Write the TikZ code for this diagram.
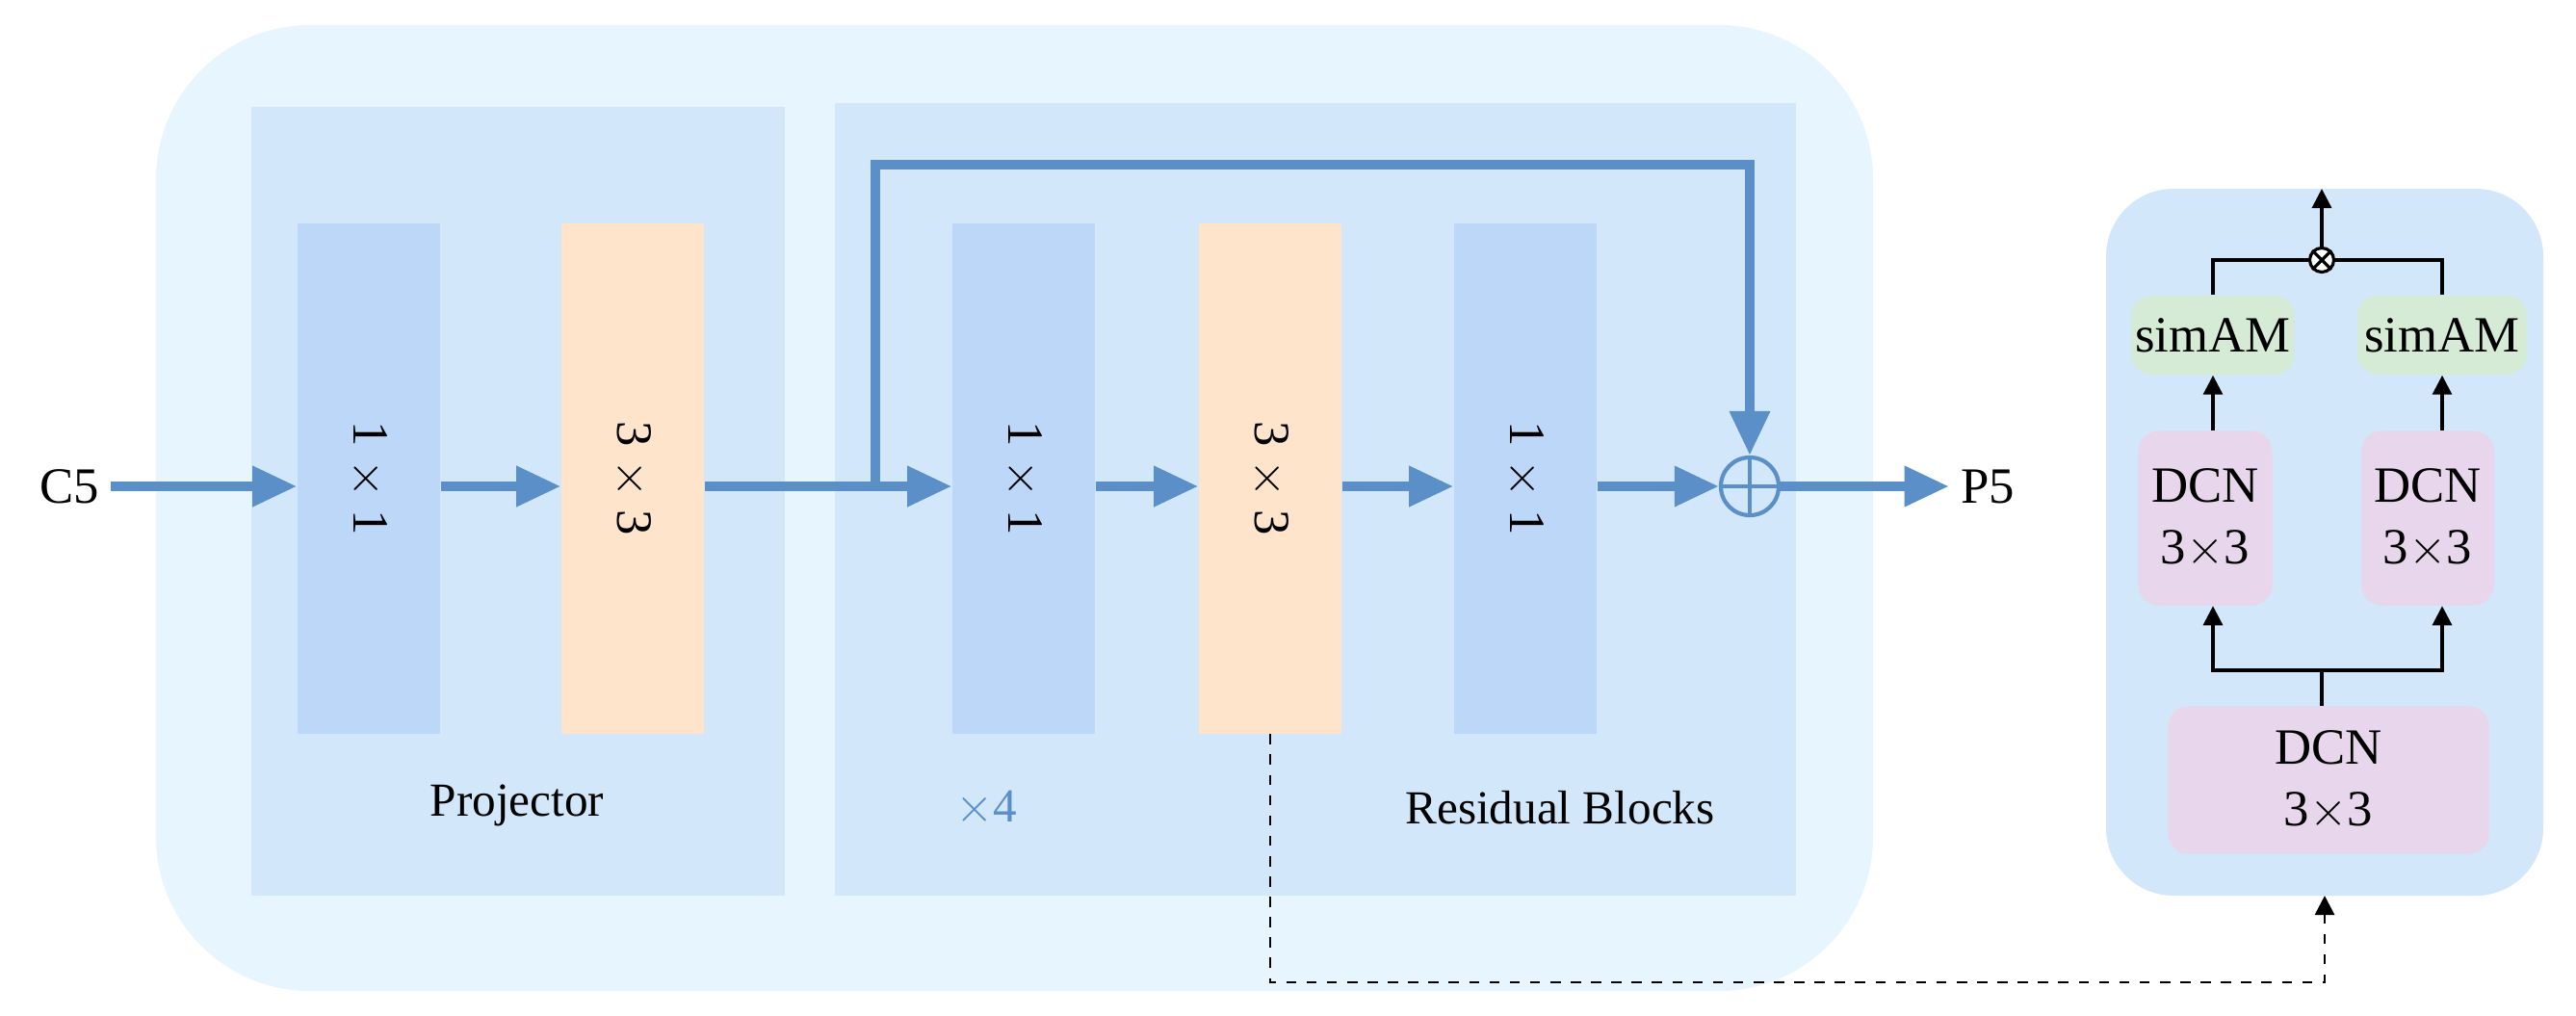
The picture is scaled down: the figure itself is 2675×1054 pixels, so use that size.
\documentclass[tikz,border=0pt]{standalone}
\usepackage{fontspec}
\setmainfont{Liberation Serif}
\usetikzlibrary{arrows.meta, positioning}
\definecolor{outerbg}{HTML}{E6F5FE}
\definecolor{panelbg}{HTML}{D3E7FA}
\definecolor{convblue}{HTML}{BDD7F8}
\definecolor{convpeach}{HTML}{FEE4CB}
\definecolor{dcnpink}{HTML}{E8D6EC}
\definecolor{simgreen}{HTML}{D5EBD6}
\definecolor{flowblue}{HTML}{5B8FC7}
\begin{document}
\begin{tikzpicture}[
x=0.01cm, y=-0.01cm,
font=\fontsize{15}{18}\selectfont,
panel/.style={fill=panelbg, draw=none},
conv/.style={draw=none, minimum width=1.48cm, minimum height=5.29cm, inner sep=0pt},
box/.style={draw=none, rounded corners=6pt, align=center, inner sep=0pt},
flow/.style={flowblue, line width=2.8pt, -{Triangle[length=0.46cm, width=0.4cm]}},
thin/.style={black, line width=0.9pt, -{Triangle[length=0.2cm, width=0.2cm]}}
]
\useasboundingbox (0,0) rectangle (2675,1054);

% backgrounds
\fill[outerbg, rounded corners=1.6cm] (162,26) rectangle (1945,1029);
\fill[panel] (261,111) rectangle (815,930);
\fill[panel] (867,107) rectangle (1865,930);
\fill[panel, rounded corners=0.7cm] (2187,196) rectangle (2641,930);

% main path
\node (c5) at (72,505) {C5};
\node[conv, fill=convblue] (p1) at (383,497) {};
\node[rotate=-90] at (p1) {1 $\times$ 1};
\node[conv, fill=convpeach] (p3) at (657,497) {};
\node[rotate=-90] at (p3) {3 $\times$ 3};
\node[conv, fill=convblue] (r1) at (1063,497) {};
\node[rotate=-90] at (r1) {1 $\times$ 1};
\node[conv, fill=convpeach] (r3) at (1319,497) {};
\node[rotate=-90] at (r3) {3 $\times$ 3};
\node[conv, fill=convblue] (r5) at (1584,497) {};
\node[rotate=-90] at (r5) {1 $\times$ 1};
\node[circle, draw=flowblue, line width=1.2pt, minimum size=0.6cm, inner sep=0pt] (add) at (1817,505) {};
\draw[flowblue, line width=1.2pt] (add.north) -- (add.south) (add.west) -- (add.east);
\node (p5) at (2064,505) {P5};
\coordinate (skip) at (909,505);

\draw[flow] (c5.east) -- (p1.west |- c5);
\draw[flow] (p1.east |- c5) -- (p3.west |- c5);
\draw[flow] (p3.east |- c5) -- (r1.west |- c5);
\draw[flow] (r1.east |- c5) -- (r3.west |- c5);
\draw[flow] (r3.east |- c5) -- (r5.west |- c5);
\draw[flow] (r5.east |- c5) -- (add.west);
\draw[flow] (add.east) -- (p5.west);
\draw[flow] (skip) -- (909,171) -- (1817,171) -- (add.north);

\node[font=\fontsize{14}{16}\selectfont] at (537,836) {Projector};
\node[text=flowblue, font=\fontsize{14}{16}\selectfont] at (1024,839) {$\times$4};
\node[font=\fontsize{14}{16}\selectfont] at (1620,839) {Residual Blocks};

% detail panel
\node[box, fill=dcnpink, minimum width=3.33cm, minimum height=1.53cm] (dcnb) at (2418,810) {DCN\\3$\times$3};
\node[box, fill=dcnpink, minimum width=1.39cm, minimum height=1.81cm] (dcnl) at (2290,538) {DCN\\3$\times$3};
\node[box, fill=dcnpink, minimum width=1.38cm, minimum height=1.81cm] (dcnr) at (2521,538) {DCN\\3$\times$3};
\node[box, fill=simgreen, minimum width=1.69cm, minimum height=0.82cm] (siml) at (2298,348) {simAM};
\node[box, fill=simgreen, minimum width=1.76cm, minimum height=0.82cm] (simr) at (2536,348) {simAM};
\node[circle, draw, fill=white, line width=0.9pt, minimum size=0.25cm, inner sep=0pt] (mul) at (2411,270) {};
\draw[line width=0.9pt] (mul.north west) -- (mul.south east) (mul.north east) -- (mul.south west);
\coordinate (split) at (2411,696);
\coordinate (out) at (2411,196);

\draw[thin, -] (dcnb.north -| split) -- (split);
\draw[thin] (split) -| (siml.south |- dcnl.south);
\draw[thin] (split) -| (simr.south |- dcnr.south);
\draw[thin] (siml.south |- dcnl.north) -- (siml.south);
\draw[thin] (simr.south |- dcnr.north) -- (simr.south);
\draw[line width=0.9pt] (siml.north) |- (mul.west);
\draw[line width=0.9pt] (simr.north) |- (mul.east);
\draw[thin] (mul.north) -- (out);

% link to detail
\draw[thin, dashed, line width=0.8pt] (r3.south) -- (1319,1020) -- (2414,1020) -- (2414,930);
\end{tikzpicture}
\end{document}
